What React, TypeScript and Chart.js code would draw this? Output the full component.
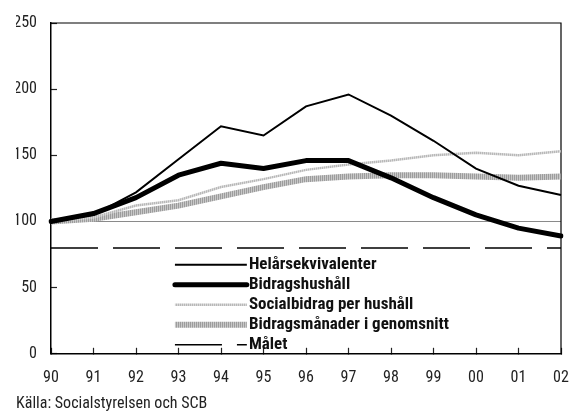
import React, { useEffect, useRef } from 'react';
import { Chart, registerables } from 'chart.js';

Chart.register(...registerables);

const years = ['90', '91', '92', '93', '94', '95', '96', '97', '98', '99', '00', '01', '02'];
const helarsekvivalenter = [100, 105, 122, 147, 172, 165, 187, 196, 180, 161, 140, 127, 120];
const bidragshushall = [100, 106, 118, 135, 144, 140, 146, 146, 133, 118, 105, 95, 89];
const socialbidragPerHushall = [100, 103, 112, 116, 126, 132, 139, 143, 146, 150, 152, 150, 153];
const bidragsmanader = [100, 102, 107, 112, 119, 126, 132, 134, 135, 135, 134, 133, 134];
const malet = [80, 80, 80, 80, 80, 80, 80, 80, 80, 80, 80, 80, 80];
const seriesNames = [
  'Helårsekvivalenter',
  'Bidragshushåll',
  'Socialbidrag per hushåll',
  'Bidragsmånader i genomsnitt',
  'Målet',
];
const yMin = 0;
const yMax = 250;
const yStep = 50;
const referenceValue = 100;
const sourceText = 'Källa: Socialstyrelsen och SCB';

const FONT = "'Roboto Condensed', 'Open Sans Condensed', 'DejaVu Sans Condensed', sans-serif";

function stripePattern(a: string, b: string): CanvasPattern | string {
  const c = document.createElement('canvas');
  c.width = 2;
  c.height = 1;
  const g = c.getContext('2d');
  if (!g) return a;
  g.fillStyle = a;
  g.fillRect(0, 0, 1, 1);
  g.fillStyle = b;
  g.fillRect(1, 0, 1, 1);
  const p = g.createPattern(c, 'repeat');
  return p || a;
}

const boxPlugin = {
  id: 'boxPlugin',
  beforeDatasetsDraw(chart: any) {
    const { ctx, chartArea } = chart;
    ctx.save();
    ctx.strokeStyle = '#000';
    ctx.lineWidth = 1.2;
    ctx.beginPath();
    ctx.moveTo(chartArea.left, chartArea.top);
    ctx.lineTo(chartArea.right, chartArea.top);
    ctx.lineTo(chartArea.right, chartArea.bottom);
    ctx.stroke();
    ctx.restore();
  },
};

const legendPlugin = {
  id: 'customLegend',
  afterDatasetsDraw(chart: any) {
    const { ctx, chartArea } = chart;
    const w = chartArea.right - chartArea.left;
    const h = chartArea.bottom - chartArea.top;
    const x0 = chartArea.left + w * 0.243;
    const x1 = chartArea.left + w * 0.384;
    const tx = chartArea.left + w * 0.388;
    const y0 = chartArea.top + h * 0.731;
    const dy = h * 0.0605;
    ctx.save();
    chart.data.datasets.forEach((ds: any, i: number) => {
      const y = y0 + dy * i;
      ctx.beginPath();
      ctx.strokeStyle = ds.borderColor;
      ctx.lineWidth = ds.borderWidth;
      ctx.lineCap = ds.borderCapStyle || 'butt';
      ctx.setLineDash(ds.borderDash || []);
      ctx.moveTo(x0, y);
      ctx.lineTo(x1, y);
      ctx.stroke();
      ctx.setLineDash([]);
      ctx.fillStyle = '#111';
      ctx.font = `bold 17px ${FONT}`;
      ctx.textBaseline = 'middle';
      ctx.textAlign = 'left';
      ctx.fillText(ds.label, tx, y);
    });
    ctx.restore();
  },
};

export default function App() {
  const ref = useRef<HTMLCanvasElement>(null);

  useEffect(() => {
    if (!ref.current) return;
    const lightStripe = stripePattern('#b8b8b8', '#d8d8d8');
    const darkStripe = stripePattern('#9c9c9c', '#c8c8c8');
    const chart = new Chart(ref.current, {
      type: 'line',
      data: {
        labels: years,
        datasets: [
          {
            label: seriesNames[0],
            data: helarsekvivalenter,
            borderColor: '#000',
            borderWidth: 2,
            pointRadius: 0,
            tension: 0,
          },
          {
            label: seriesNames[1],
            data: bidragshushall,
            borderColor: '#000',
            borderWidth: 5,
            borderCapStyle: 'round',
            borderJoinStyle: 'round',
            pointRadius: 0,
            tension: 0,
          },
          {
            label: seriesNames[2],
            data: socialbidragPerHushall,
            borderColor: lightStripe as any,
            borderWidth: 2.5,
            pointRadius: 0,
            tension: 0,
          },
          {
            label: seriesNames[3],
            data: bidragsmanader,
            borderColor: darkStripe as any,
            borderWidth: 6,
            pointRadius: 0,
            tension: 0,
          },
          {
            label: seriesNames[4],
            data: malet,
            borderColor: '#000',
            borderWidth: 1.5,
            borderDash: [47, 15],
            pointRadius: 0,
            tension: 0,
          },
        ],
      },
      options: {
        responsive: false,
        animation: false,
        events: [],
        layout: { padding: { left: 16, right: 9, top: 23, bottom: 0 } },
        plugins: {
          legend: { display: false },
          tooltip: { enabled: false },
          title: {
            display: true,
            text: sourceText,
            position: 'bottom',
            align: 'start',
            color: '#222',
            font: { family: FONT, size: 16, weight: 'normal' },
            padding: { top: 0, bottom: 3 },
          },
        },
        scales: {
          x: {
            type: 'category',
            offset: false,
            afterFit(scale: any) {
              scale.height = 41;
              scale.paddingLeft = 0;
              scale.paddingRight = 0;
            },
            grid: { drawOnChartArea: false, drawTicks: true, tickLength: -6, tickColor: '#222', tickWidth: 1.2 },
            border: { color: '#000', width: 1.5 },
            ticks: {
              autoSkip: false,
              maxRotation: 0,
              padding: 21,
              color: '#222',
              font: { family: FONT, size: 16 },
            },
          },
          y: {
            min: yMin,
            max: yMax,
            afterFit(scale: any) {
              scale.width = 35;
              scale.paddingTop = 0;
              scale.paddingBottom = 0;
            },
            grid: {
              drawOnChartArea: true,
              drawTicks: true,
              tickLength: -6,
              tickColor: '#222',
              tickWidth: 1.2,
              color: (c: any) => (c.tick && c.tick.value === referenceValue ? '#8a8a8a' : 'rgba(0,0,0,0)'),
              lineWidth: 1,
            },
            border: { color: '#000', width: 1.5 },
            ticks: {
              stepSize: yStep,
              padding: 20,
              color: '#222',
              font: { family: FONT, size: 16 },
            },
          },
        },
      },
      plugins: [boxPlugin, legendPlugin],
    });
    return () => chart.destroy();
  }, []);

  return (
    <div style={{ position: 'fixed', left: 0, top: 0, width: 570, height: 417, background: '#fff' }}>
      <canvas ref={ref} width={570} height={417} style={{ display: 'block' }} />
    </div>
  );
}
